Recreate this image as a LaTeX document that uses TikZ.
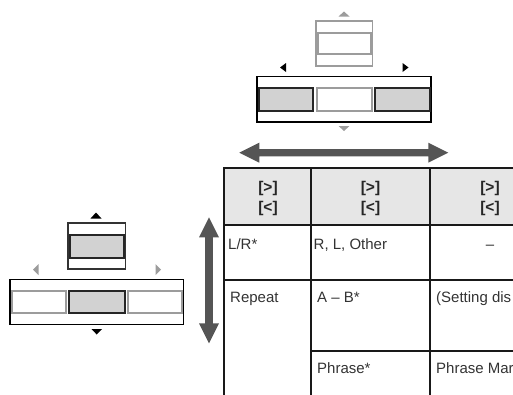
\documentclass[tikz,border=0pt]{standalone}
\usepackage{fontspec}
\setmainfont{Liberation Sans}
\definecolor{boxgray}{HTML}{D2D2D2}
\definecolor{lightline}{HTML}{9C9C9C}
\definecolor{headfill}{HTML}{E6E6E6}
\definecolor{arrowgray}{HTML}{555555}
\definecolor{txt}{HTML}{333333}
\tikzset{
  outerbox/.style={draw=black,line width=1.4pt,fill=white},
  outerlight/.style={draw=lightline,line width=1.4pt,fill=white},
  selbox/.style={draw=black!85,line width=2pt,fill=boxgray},
  unselbox/.style={draw=lightline,line width=2pt,fill=white},
  trilight/.style={fill=lightline},
  tridark/.style={fill=black},
  bigarrow/.style={fill=arrowgray},
  tline/.style={draw=black!90,line width=2pt},
  celltext/.style={anchor=base west,inner sep=0pt,font=\fontsize{15}{17}\selectfont,text=txt},
  headtext/.style={anchor=base,inner sep=0pt,font=\fontsize{15.5}{16}\selectfont\bfseries,text=black!85},
}
\begin{document}
\begin{tikzpicture}[x=1pt,y=-1pt]
\useasboundingbox (0,0) rectangle (513,394);
\begin{scope}
\clip (0,0) rectangle (513,394);
% ---------- top device ----------
\path[trilight] (344,11.5) -- (338.5,16.5) -- (349.5,16.5) -- cycle;
\draw[outerlight] (316,21) rectangle (372.5,66);
\draw[unselbox] (317.5,33) rectangle (371,54);
\path[tridark] (280,67.5) -- (286,63) -- (286,72) -- cycle;
\path[tridark] (408.5,67.5) -- (402.5,63) -- (402.5,72) -- cycle;
\draw[outerbox] (257,76.5) rectangle (431,122);
\draw[selbox] (259,88) rectangle (313,111);
\draw[unselbox] (316.5,88) rectangle (371.5,111);
\draw[selbox] (374.5,88) rectangle (429.5,111);
\path[trilight] (338.5,126) -- (349.5,126) -- (344,131) -- cycle;
% ---------- left device ----------
\path[tridark] (96,212.5) -- (90.5,218.5) -- (101.5,218.5) -- cycle;
\draw[outerbox,draw=black!80] (68,223) rectangle (125.5,269);
\draw[selbox] (69.5,234.5) rectangle (124,257.5);
\path[trilight] (33,269.5) -- (38.5,264) -- (38.5,275) -- cycle;
\path[trilight] (161,269.5) -- (155.5,264) -- (155.5,275) -- cycle;
\draw[outerbox] (10,279.5) rectangle (183.5,324.5);
\draw[unselbox] (11.5,291) rectangle (65.5,313);
\draw[selbox] (69,291) rectangle (124.5,313);
\draw[unselbox] (127.5,291) rectangle (182,313);
\path[tridark] (91.5,329) -- (102,329) -- (96.7,334.5) -- cycle;
% ---------- big arrows ----------
\path[bigarrow] (239.3,152.7) -- (259.3,142.7) -- (259.3,149) -- (428.3,149) -- (428.3,142.7)
  -- (448.3,152.7) -- (428.3,162.7) -- (428.3,156.4) -- (259.3,156.4) -- (259.3,162.7) -- cycle;
\path[bigarrow] (209,217.3) -- (219,237.3) -- (212.8,237.3) -- (212.8,323.3) -- (219,323.3)
  -- (209,343.3) -- (199,323.3) -- (205.2,323.3) -- (205.2,237.3) -- (199,237.3) -- cycle;
% ---------- table ----------
\fill[headfill] (224,168) rectangle (520,225);
\draw[tline] (224,168) -- (520,168);
\draw[tline] (224,225) -- (520,225);
\draw[tline] (224,280) -- (520,280);
\draw[tline] (311,351) -- (520,351);
\draw[tline] (224,167) -- (224,400);
\draw[tline] (311,167) -- (311,400);
\draw[tline] (430,167) -- (430,400);
\node[headtext] (h1a) at (268,192.7) {[>]};
\node[headtext] (h1b) at (268,212.2) {[<]};
\node[headtext] (h2a) at (370.5,192.7) {[>]};
\node[headtext] (h2b) at (370.5,212.2) {[<]};
\node[headtext] (h3a) at (490,192.7) {[>]};
\node[headtext] (h3b) at (490,212.2) {[<]};
\node[celltext] (c11) at (228,249.3) {L/R*};
\node[celltext] (c12) at (313.5,249.3) {R, L, Other};
\node[celltext,anchor=base] (c13) at (490,249.3) {–};
\node[celltext] (c21) at (230,302.3) {Repeat};
\node[celltext] (c22) at (317,302.3) {A – B*};
\node[celltext] (c23) at (436,302.3) {(Setting dis};
\node[celltext] (c32) at (317,373.3) {Phrase*};
\node[celltext] (c33) at (436,373.3) {Phrase Mar};
\end{scope}
\end{tikzpicture}
\end{document}
